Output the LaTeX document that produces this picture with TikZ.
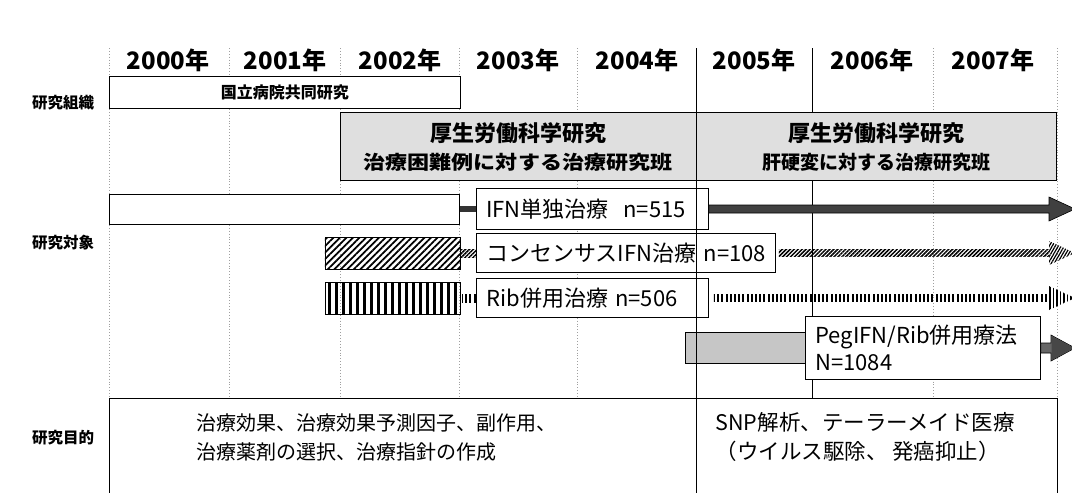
\documentclass[tikz,border=0pt]{standalone}
\usepackage{fontspec}
\setmainfont{Noto Sans CJK JP}
\usetikzlibrary{patterns.meta,calc}
\tikzset{
  gridline/.style={gray!75, dotted, line width=0.9pt},
  solidline/.style={black, line width=0.8pt},
  yearlbl/.style={font=\bfseries\fontsize{24}{24}\selectfont},
  rowlbl/.style={font=\bfseries\fontsize{15.5}{15.5}\selectfont},
  bx/.style={draw=black, line width=0.8pt, fill=white, inner sep=0pt},
  graybox/.style={draw=black, line width=0.8pt, fill=gray!25, inner sep=0pt, anchor=north west},
  txtbox/.style={draw=black, line width=0.8pt, fill=white, inner xsep=10pt, inner ysep=0pt,
     anchor=west, align=left, font=\fontsize{22}{27}\selectfont},
  bar/.style={draw=black, line width=0.8pt, inner sep=0pt, anchor=west},
  hatchA/.style={pattern={Lines[angle=45,distance=4.6pt,line width=1.8pt]}},
  vlinesA/.style={pattern={Lines[angle=90,distance=7pt,line width=3pt]}},
  hatchS/.style={pattern={Lines[angle=45,distance=2.8pt,line width=1.5pt]}},
  vlinesS/.style={pattern={Lines[angle=90,distance=4.2pt,line width=2pt]}},
  titlefont/.style={font=\bfseries\fontsize{22}{22}\selectfont},
  subfont/.style={font=\bfseries\fontsize{19}{19}\selectfont},
  bodyfont/.style={align=left, anchor=west},
}
\begin{document}
\begin{tikzpicture}[x=1pt,y=-1pt]
\useasboundingbox (0,0) rectangle (1072,493);
\fill[white] (0,0) rectangle (1072,493);
% grid
\foreach \gx in {109,229,340,459,577,933,1057}
  \draw[gridline] (\gx,48) -- (\gx,493);
\draw[solidline] (812,48) -- (812,398);
% year labels
\node[yearlbl] (y0) at (168,60) {2000年};
\node[yearlbl] (y1) at (285,60) {2001年};
\node[yearlbl] (y2) at (400,60) {2002年};
\node[yearlbl] (y3) at (518,60) {2003年};
\node[yearlbl] (y4) at (637,60) {2004年};
\node[yearlbl] (y5) at (754,60) {2005年};
\node[yearlbl] (y6) at (872,60) {2006年};
\node[yearlbl] (y7) at (993,60) {2007年};
% row labels
\node[rowlbl] (r1) at (63,103) {研究組織};
\node[rowlbl] (r2) at (63,243) {研究対象};
\node[rowlbl] (r3) at (63,438) {研究目的};
% organisation
\node[bx, anchor=north west, minimum width=351, minimum height=32,
      font=\bfseries\fontsize{16}{16}\selectfont] (kokuritsu) at (109,76) {国立病院共同研究};
\node[graybox, minimum width=356, minimum height=68] (kousei1) at (340,112) {};
\node[titlefont] (k1t) at (518,133) {厚生労働科学研究};
\node[subfont] (k1s) at (518,162) {\scalebox{1.16}[1]{治療困難例に対する治療研究班}};
\node[graybox, minimum width=360, minimum height=68] (kousei2) at (696,112) {};
\node[titlefont] (k2t) at (876,133) {厚生労働科学研究};
\node[subfont] (k2s) at (876,162) {肝硬変に対する治療研究班};
% bars
\node[bar, fill=white, minimum width=350, minimum height=30] (ifnbar) at (109,209) {};
\node[bar, hatchA, minimum width=135, minimum height=32] (consbar) at (324,253) {};
\node[bar, vlinesA, minimum width=135, minimum height=32] (ribbar) at (324,298) {};
\node[bar, fill=gray!45, minimum width=120, minimum height=31] (pegbar) at (685,348) {};
% text boxes
\node[txtbox, text width=212, minimum height=41] (ifn) at (476,209) {\mbox{IFN単独治療\ \ n=515}};
\node[txtbox, text width=279, minimum height=39] (cons) at (476,253) {\mbox{コンセンサスIFN治療 n=108}};
\node[txtbox, text width=212, minimum height=39] (rib) at (476,298) {\mbox{Rib併用治療 n=506}};
\node[txtbox, text width=215, minimum height=63] (peg) at (805,348) {\mbox{PegIFN/Rib併用療法}\\N=1084};
% short connectors bar -> box
\fill[black!80] ($(ifnbar.east)+(0,-3)$) rectangle ($(ifn.west)+(0,3)$);
\fill[hatchS] ($(consbar.east)+(0,-4)$) rectangle ($(cons.west)+(0,4)$);
\fill[vlinesS] ($(ribbar.east)+(0,-4)$) rectangle ($(rib.west)+(0,4)$);
% long arrows
\coordinate (tipA) at (1075,209);
\coordinate (tipB) at (1075,253);
\coordinate (tipC) at (1075,298);
\coordinate (tipD) at (1075,348);
\filldraw[fill=black!75, draw=black, line width=0.6pt]
  ($(ifn.east)+(0,-4)$) -- ($(tipA)+(-26,-4)$) -- ($(tipA)+(-26,-12)$) -- (tipA)
  -- ($(tipA)+(-26,12)$) -- ($(tipA)+(-26,4)$) -- ($(ifn.east)+(0,4)$) -- cycle;
\fill[hatchS]
  ($(cons.east)+(3,-3.5)$) rectangle ($(tipB)+(-26,3.5)$);
\fill[pattern={Lines[angle=60,distance=2.6pt,line width=1.2pt]}]
  ($(tipB)+(-26,-12)$) -- (tipB) -- ($(tipB)+(-26,12)$) -- cycle;
\fill[vlinesS]
  ($(rib.east)+(5,-3.5)$) rectangle ($(tipC)+(-26,3.5)$);
\fill[pattern={Lines[angle=90,distance=3.5pt,line width=1.3pt]}]
  ($(tipC)+(-26,-12)$) -- (tipC) -- ($(tipC)+(-26,12)$) -- cycle;
\filldraw[fill=black!60, draw=black, line width=0.6pt]
  ($(peg.east)+(0,-5)$) -- ($(tipD)+(-24,-5)$) -- ($(tipD)+(-24,-13)$) -- (tipD)
  -- ($(tipD)+(-24,13)$) -- ($(tipD)+(-24,5)$) -- ($(peg.east)+(0,5)$) -- cycle;
\fill[black!72] ($(tipD)+(-23.5,-12.2)$) -- ($(tipD)+(-0.8,0)$) -- ($(tipD)+(-23.5,12.2)$) -- cycle;
% bottom box
\node[bx, anchor=north west, minimum width=948, minimum height=100] (purpose) at (109,398) {};
\node[bodyfont, font=\fontsize{20}{29}\selectfont] (p1) at (193,437) {治療効果、治療効果予測因子、副作用、\\治療薬剤の選択、治療指針の作成};
\node[bodyfont, font=\fontsize{21.5}{29}\selectfont] (p2) at (712,437) {SNP解析、テーラーメイド医療\\（ウイルス駆除、 発癌抑止）};
% solid divider on top
\draw[solidline] (696,48) -- (696,493);
\end{tikzpicture}
\end{document}
